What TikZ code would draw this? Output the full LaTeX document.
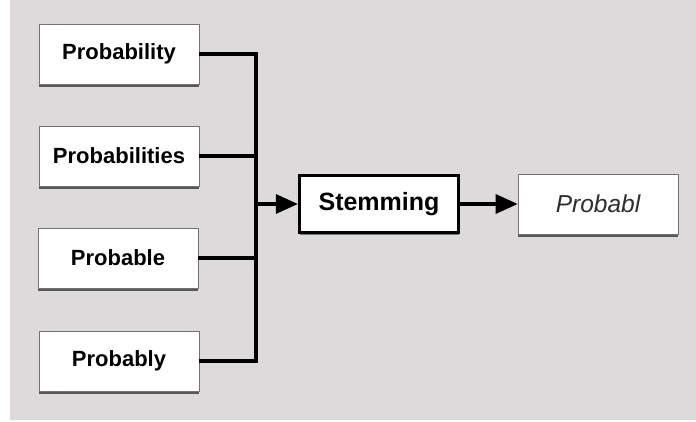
\documentclass[tikz,border=0pt]{standalone}
\usepackage{fontspec}
\setmainfont{Liberation Sans}
\usetikzlibrary{shadows,arrows.meta}
\definecolor{panel}{RGB}{220,218,219}
\definecolor{outtext}{RGB}{45,45,45}
\tikzset{
  wordbox/.style={rectangle, fill=white, draw=black!55, line width=0.6pt,
    minimum width=160pt, minimum height=60pt, inner sep=0pt,
    font=\fontsize{22}{24}\selectfont\bfseries,
    drop shadow={shadow xshift=0.4pt, shadow yshift=-2.5pt, opacity=0.6, fill=black}},
  stembox/.style={rectangle, fill=white, draw=black, line width=3.2pt,
    minimum width=159pt, minimum height=57pt, inner sep=0pt,
    font=\fontsize{25}{28}\selectfont\bfseries,
    drop shadow={shadow xshift=0.4pt, shadow yshift=-2.5pt, opacity=0.45, fill=black}},
  outbox/.style={rectangle, fill=white, draw=black!55, line width=0.6pt,
    minimum width=160pt, minimum height=60pt, inner sep=0pt,
    font=\fontsize{24.5}{28}\selectfont\itshape, text=outtext,
    drop shadow={shadow xshift=0.4pt, shadow yshift=-2.5pt, opacity=0.6, fill=black}},
  conn/.style={draw=black, line width=3.3pt},
  arr/.style={conn, -{Triangle[length=22pt,width=19pt]}}
}
\begin{document}
\begin{tikzpicture}[x=1pt,y=-1pt]
\useasboundingbox (0,0) rectangle (696,421);
\fill[panel] (10,0) rectangle (696,420);
\node[wordbox] (b1) at (119,54) {Probability};
\node[wordbox] (b2) at (119,156) {Probabilities};
\node[wordbox] (b3) at (118,258) {Probable};
\node[wordbox] (b4) at (119,361) {Probably};
\node[stembox] (stem) at (379,204) {Stemming};
\node[outbox] (out) at (598,204) {Probabl};
\coordinate (bm) at (256,204);
\draw[conn] (b1.east) -| (bm);
\draw[conn] (b4.east) -| (bm);
\draw[conn] (b2.east) -- (b2.east -| bm);
\draw[conn] (b3.east) -- (b3.east -| bm);
\draw[arr] (bm) -- (stem.west);
\draw[arr] (stem.east) -- (out.west);
\end{tikzpicture}
\end{document}
